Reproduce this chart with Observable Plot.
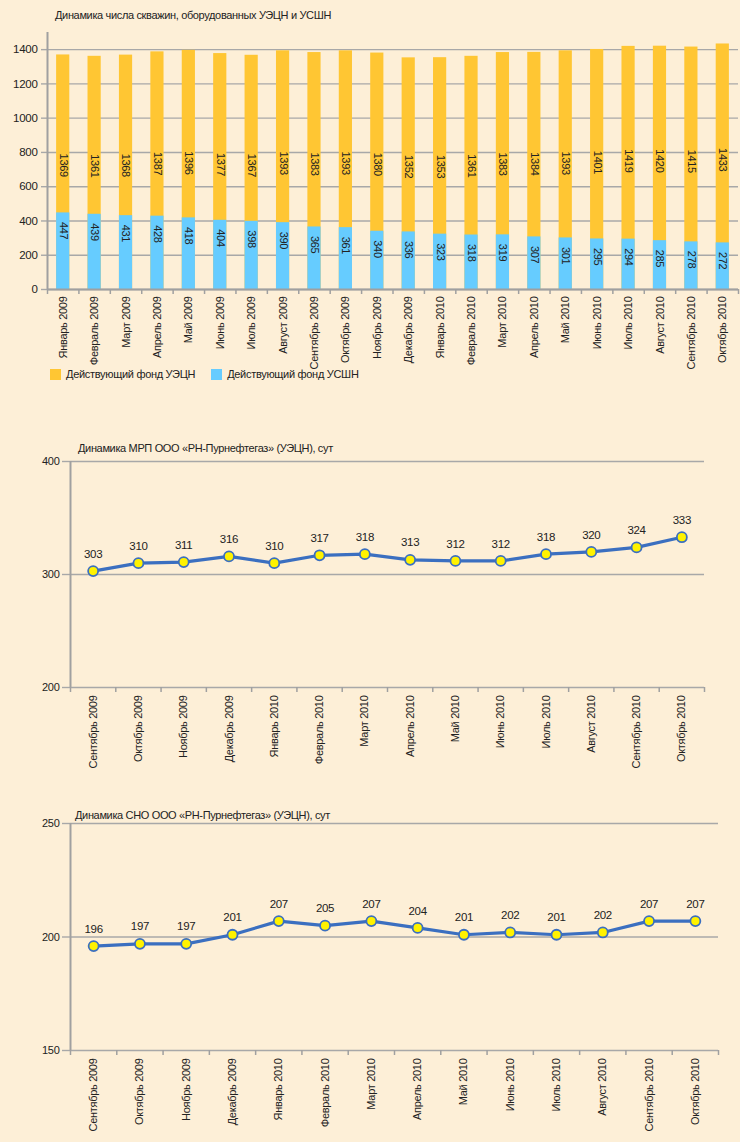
<!DOCTYPE html>
<html>
<head>
<meta charset="utf-8">
<script src="https://cdn.jsdelivr.net/npm/d3@7"></script>
<script src="https://cdn.jsdelivr.net/npm/@observablehq/plot@0.6"></script>
<style>
  html, body { margin: 0; padding: 0; background: #FDEFD7; }
  #root { position: relative; width: 740px; height: 1142px; background: #FDEFD7; overflow: hidden;
          font-family: "Liberation Sans", Arial, sans-serif; color: #222; }
  .title { position: absolute; font-size: 11px; color: #222; white-space: nowrap; line-height: 14px; letter-spacing: -0.35px; }
  .chart { position: absolute; left: 0; }
  .chart svg text { letter-spacing: -0.3px; }
  .legend { position: absolute; top: 368px; left: 50px; font-size: 11px; display: flex; align-items: center; white-space: nowrap; letter-spacing: -0.3px; }
  .sw { display: inline-block; width: 11px; height: 11px; margin-right: 5px; }
</style>
</head>
<body>
<div id="root">
  <div class="title" style="left:55px; top:8px;">Динамика числа скважин, оборудованных УЭЦН и УСШН</div>
  <div class="chart" id="c1" style="top:0px;"></div>
  <div class="legend">
    <span class="sw" style="background:#FFC633"></span><span style="margin-right:16px">Действующий фонд УЭЦН</span>
    <span class="sw" style="background:#66CCFF"></span><span>Действующий фонд УСШН</span>
  </div>
  <div class="title" style="left:78px; top:441px;">Динамика МРП ООО «РН-Пурнефтегаз» (УЭЦН), сут</div>
  <div class="chart" id="c2" style="top:430px;"></div>
  <div class="title" style="left:75px; top:808px;">Динамика СНО ООО «РН-Пурнефтегаз» (УЭЦН), сут</div>
  <div class="chart" id="c3" style="top:800px;"></div>
</div>
<script>
const FONT = '"Liberation Sans", Arial, sans-serif';

// ---- Chart 1 data ----
const months1 = ["Январь 2009","Февраль 2009","Март 2009","Апрель 2009","Май 2009","Июнь 2009","Июль 2009","Август 2009","Сентябрь 2009","Октябрь 2009","Ноябрь 2009","Декабрь 2009","Январь 2010","Февраль 2010","Март 2010","Апрель 2010","Май 2010","Июнь 2010","Июль 2010","Август 2010","Сентябрь 2010","Октябрь 2010"];
const uecn = [1369,1361,1368,1387,1396,1377,1367,1393,1383,1393,1380,1352,1353,1361,1383,1384,1393,1401,1419,1420,1415,1433];
const ussn = [447,439,431,428,418,404,398,390,365,361,340,336,323,318,319,307,301,295,294,285,278,272];
const yTicks1 = [0,200,400,600,800,1000,1200,1400];

// ---- Chart 2 & 3 data ----
const months2 = ["Сентябрь 2009","Октябрь 2009","Ноябрь 2009","Декабрь 2009","Январь 2010","Февраль 2010","Март 2010","Апрель 2010","Май 2010","Июнь 2010","Июль 2010","Август 2010","Сентябрь 2010","Октябрь 2010"];
const mrp = [303,310,311,316,310,317,318,313,312,312,318,320,324,333];
const sno = [196,197,197,201,207,205,207,204,201,202,201,202,207,207];
const yTicks2 = [200,300,400];
const yTicks3 = [150,200,250];

const GRID = "#A8A8A8";
const AXIS = "#A0A0A0";
const ORANGE = "#FFC633";
const BLUE = "#66CCFF";
const LINE = "#3B6FC0";
const DOT = "#FFF200";
const fmt = d => String(d);

// ---- Chart 1 ----
const data1 = months1.map((m, i) => ({i, m, uecn: uecn[i], ussn: ussn[i]}));
const n1 = months1.length;
const c1 = Plot.plot({
  width: 740, height: 362,
  marginLeft: 47, marginRight: 2, marginTop: 32, marginBottom: 73,
  style: {background: "transparent", fontFamily: FONT, fontSize: "11px", color: "#222", overflow: "visible"},
  x: {type: "linear", domain: [-0.5, n1 - 0.5], axis: null, label: null},
  y: {domain: [0, 1500], axis: null, label: null},
  marks: [
    Plot.gridY({ticks: yTicks1, stroke: GRID, strokeOpacity: 1, strokeWidth: 1.4}),
    Plot.axisY({ticks: yTicks1, tickFormat: fmt, label: null, tickSize: 6, tickPadding: 4, stroke: GRID, strokeWidth: 1.4, fill: "#222", fontSize: 11.5}),
    Plot.rectY(data1, {x1: d => d.i - 0.21, x2: d => d.i + 0.21, y1: 0, y2: "uecn", fill: ORANGE}),
    Plot.rectY(data1, {x1: d => d.i - 0.21, x2: d => d.i + 0.21, y1: 0, y2: "ussn", fill: BLUE}),
    Plot.ruleX([-0.5], {stroke: AXIS, strokeWidth: 2}),
    Plot.ruleY([0], {stroke: AXIS, strokeWidth: 2}),
    Plot.axisX({ticks: d3.range(-0.5, n1, 1), label: null, tickSize: 5, tickFormat: () => "", stroke: AXIS, strokeWidth: 1.5}),
    Plot.axisX({ticks: d3.range(n1), label: null, tickFormat: i => months1[i], tickRotate: -90, tickSize: 0, tickPadding: 7, fill: "#222", fontSize: 11}),
    Plot.text(data1, {x: "i", y: d => d.uecn / 2, text: d => String(d.uecn), rotate: 90, dy: -7, fontSize: 11, fill: "#222"}),
    Plot.text(data1, {x: "i", y: "ussn", text: d => String(d.ussn), rotate: 90, textAnchor: "start", dy: 9, fontSize: 11, fill: "#222"})
  ]
});
document.getElementById("c1").appendChild(c1);

// ---- Line charts ----
function lineChart(values, labels, yDomain, yTicks, marginTop, plotH, marginRight) {
  const data = values.map((v, i) => ({i, v, m: labels[i]}));
  const n = labels.length;
  return Plot.plot({
    width: 740, height: marginTop + plotH + 80,
    marginLeft: 70, marginRight, marginTop, marginBottom: 80,
    style: {background: "transparent", fontFamily: FONT, fontSize: "11px", color: "#222", overflow: "visible"},
    x: {type: "linear", domain: [-0.5, n - 0.5], axis: null, label: null},
    y: {domain: yDomain, axis: null, label: null},
    marks: [
      Plot.gridY({ticks: yTicks, stroke: GRID, strokeOpacity: 1, strokeWidth: 1.4}),
      Plot.axisY({ticks: yTicks, tickFormat: fmt, label: null, tickSize: 8, tickPadding: 3, stroke: GRID, strokeWidth: 1.4, fill: "#222", fontSize: 11}),
      Plot.ruleX([-0.5], {stroke: AXIS, strokeWidth: 2}),
      Plot.axisX({ticks: d3.range(-0.5, n, 1), label: null, tickSize: 5, tickFormat: () => "", stroke: AXIS, strokeWidth: 1.5}),
      Plot.axisX({ticks: d3.range(n), label: null, tickFormat: i => labels[i], tickRotate: -90, tickSize: 0, tickPadding: 8, fill: "#222", fontSize: 11}),
      Plot.line(data, {x: "i", y: "v", stroke: LINE, strokeWidth: 3.2}),
      Plot.dot(data, {x: "i", y: "v", r: 5, fill: DOT, stroke: LINE, strokeWidth: 1.8}),
      Plot.text(data, {x: "i", y: "v", text: d => String(d.v), dy: -17, fontSize: 11.5, fill: "#222"})
    ]
  });
}
document.getElementById("c2").appendChild(lineChart(mrp, months2, [200, 400], yTicks2, 31, 226, 36));
document.getElementById("c3").appendChild(lineChart(sno, months2, [150, 250], yTicks3, 23, 227, 22));
</script>
</body>
</html>
